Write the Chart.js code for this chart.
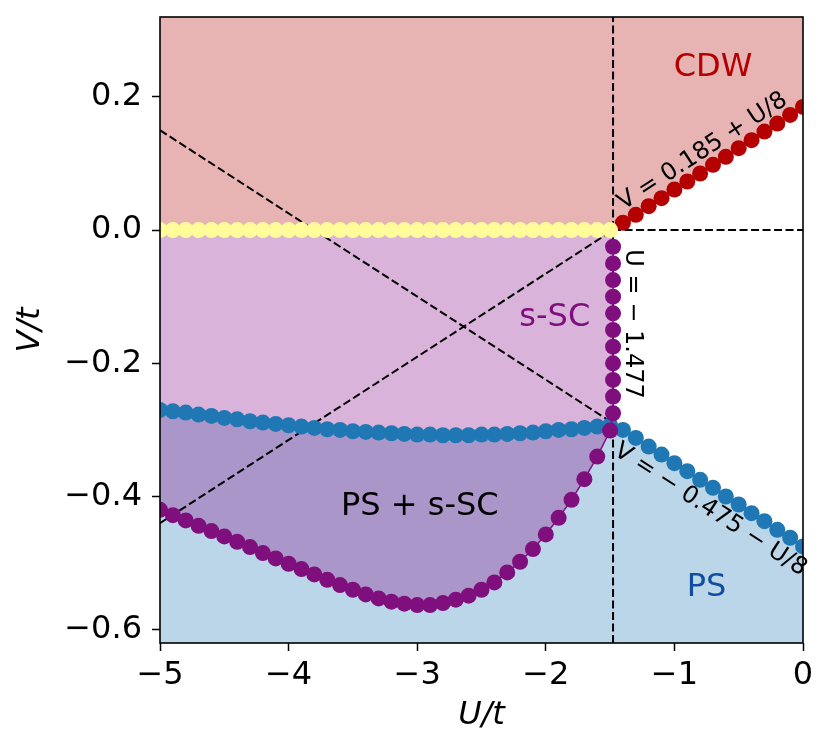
<!DOCTYPE html>
<html>
<head>
<meta charset="utf-8">
<script src="https://cdn.jsdelivr.net/npm/chart.js@4.4.1/dist/chart.umd.min.js"></script>
<style>
  html, body { margin: 0; padding: 0; background: #fff; }
  #wrap { width: 831px; height: 753px; }
</style>
</head>
<body>
<div id="wrap"><canvas id="phase"></canvas></div>
<script>
// U grid shared by the yellow, blue (left) and purple (curve) markers
const uGrid = [-5.0, -4.9, -4.8, -4.7, -4.6, -4.5, -4.4, -4.3, -4.2, -4.1,
               -4.0, -3.9, -3.8, -3.7, -3.6, -3.5, -3.4, -3.3, -3.2, -3.1,
               -3.0, -2.9, -2.8, -2.7, -2.6, -2.5, -2.4, -2.3, -2.2, -2.1,
               -2.0, -1.9, -1.8, -1.7, -1.6, -1.5];
const uRight = [-1.4, -1.3, -1.2, -1.1, -1.0, -0.9, -0.8, -0.7, -0.6, -0.5,
                -0.4, -0.3, -0.2, -0.1, 0.0];

// CDW / s-SC border (yellow)
const yellowV = [0, 0, 0, 0, 0, 0, 0, 0, 0, 0, 0, 0, 0, 0, 0, 0, 0, 0,
                 0, 0, 0, 0, 0, 0, 0, 0, 0, 0, 0, 0, 0, 0, 0, 0, 0, 0];
// CDW border on the right (red)
const redV = [0.011, 0.023, 0.036, 0.048, 0.061, 0.073, 0.085, 0.098, 0.110,
              0.123, 0.135, 0.148, 0.160, 0.173, 0.185];
// PS border (blue), left and right parts
const blueLeftV = [-0.270, -0.272, -0.274, -0.277, -0.279, -0.282, -0.284, -0.287,
                   -0.289, -0.291, -0.293, -0.295, -0.297, -0.299, -0.300, -0.302,
                   -0.303, -0.304, -0.305, -0.306, -0.307, -0.307, -0.308, -0.308,
                   -0.308, -0.307, -0.307, -0.306, -0.305, -0.304, -0.302, -0.300,
                   -0.299, -0.297, -0.295, -0.293];
const blueRightV = [-0.300, -0.312, -0.325, -0.337, -0.350, -0.362, -0.375, -0.387,
                    -0.400, -0.412, -0.425, -0.437, -0.450, -0.462, -0.475];
// s-SC border (purple): curve and vertical edge at U = -1.477
const purpleCurveV = [-0.420, -0.428, -0.436, -0.444, -0.452, -0.460, -0.468, -0.476,
                      -0.485, -0.493, -0.501, -0.509, -0.517, -0.525, -0.533, -0.540,
                      -0.547, -0.553, -0.558, -0.561, -0.563, -0.563, -0.560, -0.555,
                      -0.549, -0.540, -0.529, -0.514, -0.498, -0.479, -0.457, -0.432,
                      -0.405, -0.374, -0.340, -0.301];
const edgeU = -1.477;
const edgeV = [-0.275, -0.250, -0.225, -0.200, -0.175, -0.150, -0.125, -0.100,
               -0.075, -0.050, -0.025];
const cornerV = -0.29;

// dashed guide lines
const dashVert = {u: [edgeU, edgeU], v: [-0.62, 0.32]};
const dashHoriz = {u: [edgeU, 0], v: [0, 0]};
const dashDown = {u: [-5, edgeU], v: [0.15, cornerV]};
const dashUp = {u: [-5, edgeU], v: [-0.44, 0.0]};

const xTicks = [-5, -4, -3, -2, -1, 0];
const yTicks = [-0.6, -0.4, -0.2, 0.0, 0.2];

// text on the plot, in data coordinates
const notes = [
  {text: 'CDW', u: -0.70, v: 0.244, color: '#b40000', size: 32, rot: 0},
  {text: 's-SC', u: -1.93, v: -0.132, color: '#800f7e', size: 32, rot: 0},
  {text: 'PS + s-SC', u: -2.98, v: -0.415, color: '#000', size: 32, rot: 0},
  {text: 'PS', u: -0.75, v: -0.537, color: '#0f4f9e', size: 32, rot: 0},
  {text: 'V = 0.185 + U/8', u: -0.78, v: 0.118, color: '#000', size: 24, rot: -33},
  {text: 'U = \u2212 1.477', u: -1.33, v: -0.141, color: '#000', size: 24, rot: 90},
  {text: 'V = \u2212 0.475 \u2212 U/8', u: -0.72, v: -0.42, color: '#000', size: 24, rot: 33}
];

const pts = (us, vs) => us.map((u, i) => ({x: u, y: vs[i]}));
const minus = s => s.replace('-', '\u2212');

const FONT = "'DejaVu Sans', sans-serif";

function markers(data, color) {
  return {
    data, showLine: true, borderColor: color, borderWidth: 1.5,
    pointRadius: 8, pointBorderWidth: 0, pointBackgroundColor: color, fill: false
  };
}
function dashed(d) {
  return {
    data: pts(d.u, d.v), showLine: true, borderColor: '#000', borderWidth: 2,
    borderDash: [8, 3.5], pointRadius: 0, fill: false
  };
}
function area(data, fill, color) {
  return {data, showLine: true, borderWidth: 0, pointRadius: 0, fill, backgroundColor: color};
}

const zeroLine = pts(uGrid, yellowV).concat([{x: edgeU, y: 0}]);

const datasets = [
  markers(pts(uGrid, yellowV), 'rgb(255,252,153)'),
  markers(pts(uRight, redV), '#b40000'),
  markers(pts(uGrid, purpleCurveV).concat(pts(edgeV.map(() => edgeU), edgeV)), '#800f7e'),
  markers(pts(uGrid, blueLeftV).concat(pts(uRight, blueRightV)), '#1f77b4'),
  dashed(dashVert),
  dashed(dashHoriz),
  dashed(dashDown),
  dashed(dashUp),
  // fills, drawn bottom-up from the end of this list
  area(zeroLine.concat(pts(uRight, redV)), 'end', 'rgb(232,179,179)'),
  area(pts(uGrid, purpleCurveV).concat([{x: edgeU, y: cornerV}], pts(uRight, blueRightV)),
       'start', 'rgb(188,214,233)'),
  area(pts(uGrid, blueLeftV).concat([{x: edgeU, y: cornerV}]), 'start', 'rgb(170,150,201)'),
  area(zeroLine, 'start', 'rgb(217,179,217)')
];

const frameAndNotes = {
  id: 'frameAndNotes',
  afterDatasetsDraw(chart) {
    const {ctx, chartArea: a, scales: {x, y}} = chart;
    ctx.save();
    ctx.strokeStyle = '#000';
    ctx.lineWidth = 1.6;
    ctx.strokeRect(a.left, a.top, a.right - a.left, a.bottom - a.top);
    ctx.textAlign = 'center';
    ctx.textBaseline = 'middle';
    for (const n of notes) {
      ctx.save();
      ctx.translate(x.getPixelForValue(n.u), y.getPixelForValue(n.v));
      ctx.rotate(n.rot * Math.PI / 180);
      ctx.fillStyle = n.color;
      ctx.font = n.size + 'px ' + FONT;
      ctx.fillText(n.text, 0, 0);
      ctx.restore();
    }
    ctx.restore();
  }
};

new Chart(document.getElementById('phase'), {
  type: 'scatter',
  data: {datasets},
  options: {
    responsive: true,
    maintainAspectRatio: false,
    animation: false,
    events: [],
    layout: {padding: {left: 0, right: 28, top: 17, bottom: 0}},
    plugins: {legend: {display: false}, tooltip: {enabled: false}},
    scales: {
      x: {
        type: 'linear', min: -5, max: 0,
        afterBuildTicks: s => { s.ticks = xTicks.map(v => ({value: v})); },
        afterFit: s => { s.height = 110; s.paddingLeft = 0; s.paddingRight = 0; },
        border: {display: false},
        grid: {drawOnChartArea: false, drawTicks: true, tickLength: 8, tickWidth: 1.5, tickColor: '#000'},
        ticks: {
          color: '#000', padding: 5, font: {family: FONT, size: 32},
          callback: v => minus(String(v))
        },
        title: {
          display: true, text: 'U/t', color: '#000', padding: {top: 0, bottom: 18},
          font: {family: FONT, size: 32, style: 'italic', lineHeight: 1.2}
        }
      },
      y: {
        type: 'linear', min: -0.62, max: 0.32,
        afterBuildTicks: s => { s.ticks = yTicks.map(v => ({value: v})); },
        afterFit: s => { s.width = 160; s.paddingTop = 0; s.paddingBottom = 0; },
        border: {display: false},
        grid: {drawOnChartArea: false, drawTicks: true, tickLength: 8, tickWidth: 1.5, tickColor: '#000'},
        ticks: {
          color: '#000', padding: 10, font: {family: FONT, size: 32},
          callback: v => minus(v.toFixed(1))
        },
        title: {
          display: true, text: 'V/t', color: '#000', padding: {top: 11, bottom: 0},
          font: {family: FONT, size: 32, style: 'italic', lineHeight: 1.2}
        }
      }
    }
  },
  plugins: [frameAndNotes]
});
</script>
</body>
</html>
